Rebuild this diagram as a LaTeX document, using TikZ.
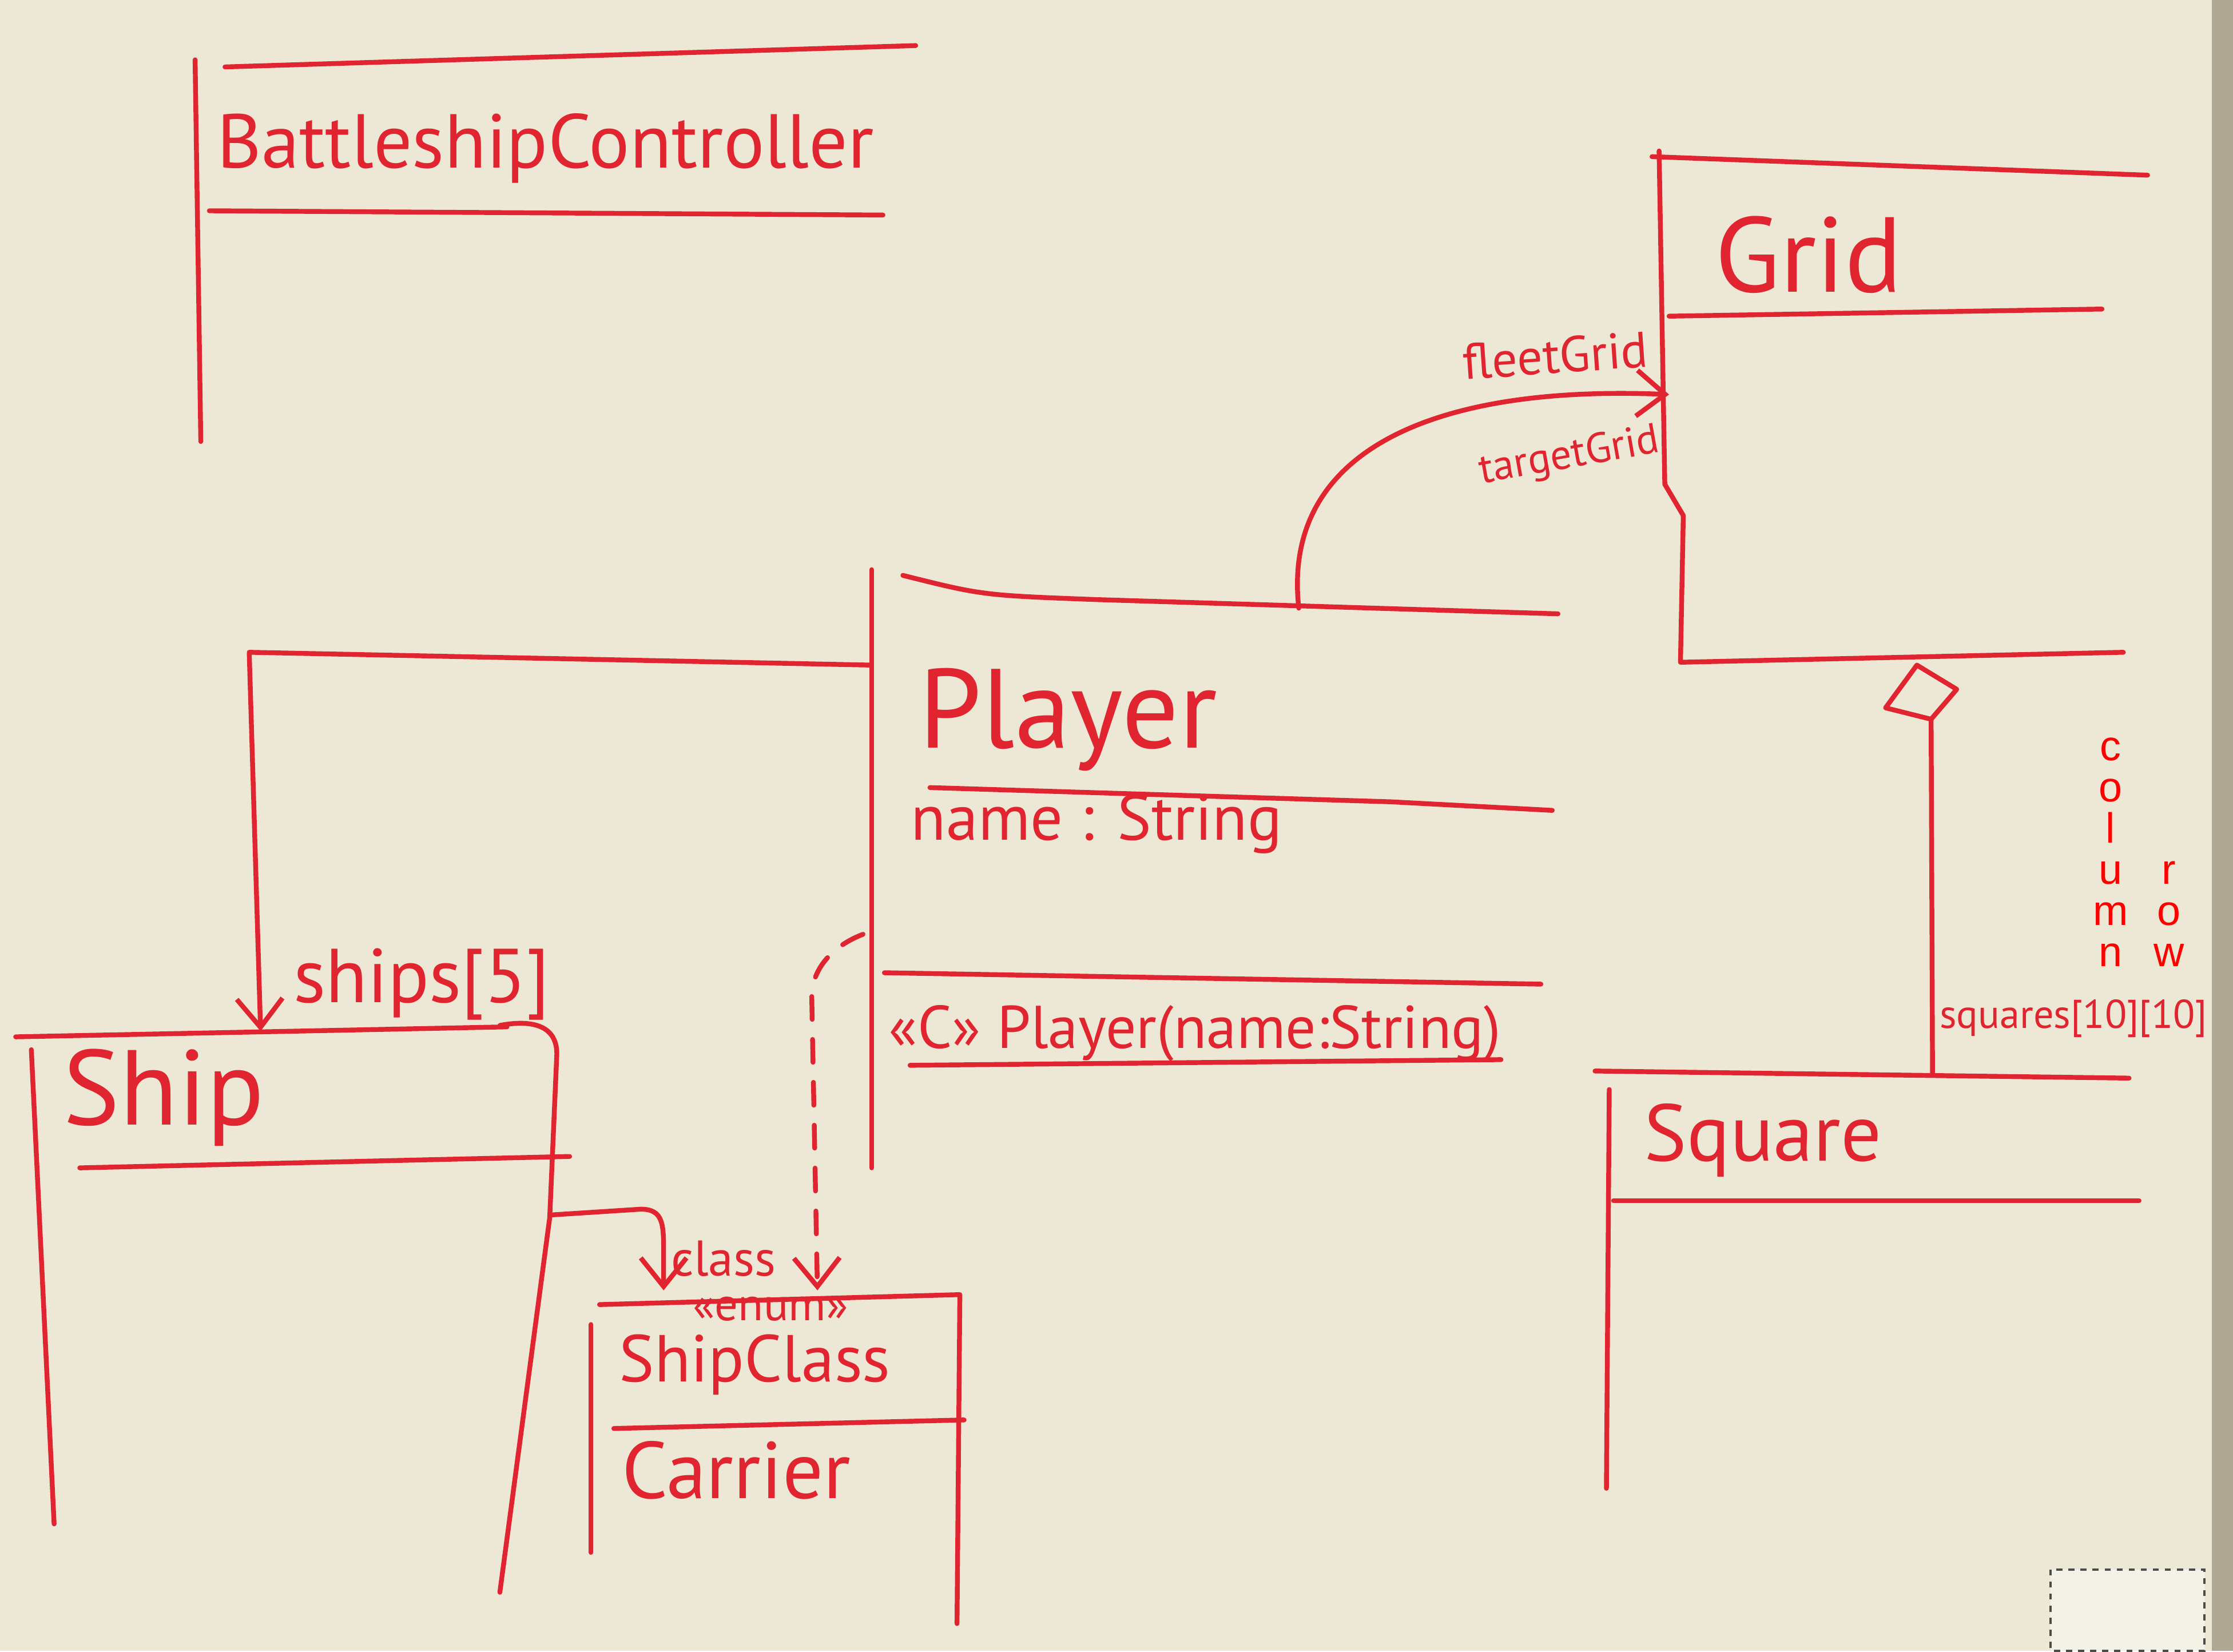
\documentclass[tikz,border=0pt]{standalone}
\usepackage{fontspec}
\setmainfont{PT Sans}
\newfontfamily\typedfont{Liberation Sans}
\usepackage{tikz}
\usetikzlibrary{arrows.meta, positioning}
\definecolor{boardbg}{RGB}{236,232,213}
\definecolor{boardframe}{RGB}{176,168,146}
\definecolor{marker}{RGB}{224,36,48}
\definecolor{typedred}{RGB}{255,0,0}
\newcommand{\mfont}[1]{\fontsize{#1}{#1}\selectfont}

\begin{document}
\begin{tikzpicture}[x=0.249mm, y=-0.249mm,
  pen/.style={draw=marker, line width=2.4pt, line cap=round, line join=round},
  hand/.style={text=marker, inner sep=0pt, anchor=base},
  barb/.style={pen, -{Straight Barb[length=5mm, width=8mm]}},
  dashbarb/.style={barb, dash pattern=on 4mm off 3.5mm}]
% board
\fill[boardbg] (0,0) rectangle (1568,1159);
\fill[boardframe] (1553,0) rectangle (1568,1159);
\draw[black!70, line width=1.2pt, dashed, fill=boardbg!60!white] (1440,1102) rectangle (1548,1159);
\useasboundingbox (0,0) rectangle (1568,1159);

% BattleshipController
\draw[pen] (158,47) -- (643,32);
\draw[pen] (137,42) -- (141,310);
\draw[pen] (147,148) -- (620,151);
\node[hand, font=\mfont{38}] (ctrltitle) at (383,118) {BattleshipController};

% Grid
\draw[pen] (1160,110) -- (1508,123);
\draw[pen] (1165,106) -- (1169,340) -- (1182,362) -- (1180,465) -- (1491,458);
\draw[pen] (1172,222) -- (1476,217);
\node[hand, font=\mfont{53}] (gridtitle) at (1270,205) {Grid};
\coordinate (grid w) at (1172,277);

% Player
\draw[pen] (612,400) -- (612,820);
\draw[pen] (634,404) .. controls (690,418) .. (770,421) -- (1094,431);
\draw[pen] (653,553) -- (977,563) -- (1090,569);
\draw[pen] (621,683) -- (1082,691);
\draw[pen] (639,748) -- (1054,744);
\node[hand, font=\mfont{56}] (playertitle) at (750,525) {Player};
\node[hand, font=\mfont{32}] (playername) at (770,590) {name : String};
\node[hand, font=\mfont{30}] (playerctor) at (839,736) {«C» Player(name:String)};
\coordinate (player n) at (912,427);
\coordinate (player w) at (612,467);
\coordinate (player dash) at (606,656);

% Ship
\draw[pen] (11,728) -- (356,721);
\draw[pen] (351,720) .. controls (372,716) and (391,719) .. (391,740) -- (386,855) -- (351,1118);
\draw[pen] (22,737) -- (38,1070);
\draw[pen] (56,820) -- (400,812);
\node[hand, font=\mfont{53}] (shiptitle) at (115,790) {Ship};
\coordinate (ship n) at (183,724);
\coordinate (ship e) at (388,853);
\coordinate (ships bend) at (175,458);

% ShipClass
\draw[pen] (421,916) -- (674,909) -- (672,1140);
\draw[pen] (415,930) -- (415,1090);
\draw[pen] (431,1003) -- (677,997);
\node[hand, font=\mfont{23}] (enumtag) at (541,927) {«enum»};
\node[hand, font=\mfont{33}] (shipclasstitle) at (530,970) {ShipClass};
\node[hand, font=\mfont{40}] (carrier) at (517,1052) {Carrier};
\coordinate (shipclass n1) at (466,906);
\coordinate (shipclass n2) at (574,906);

% Square
\draw[pen] (1120,752) -- (1495,757);
\draw[pen] (1130,765) -- (1128,1045);
\draw[pen] (1133,843) -- (1502,843);
\node[hand, font=\mfont{40}] (squaretitle) at (1238,815) {Square};
\coordinate (square n) at (1357,754);

% associations
\draw[barb] (player w) -- (ships bend) -- (ship n);
\node[hand, font=\mfont{38}] (lblships) at (296,704) {ships[5]};

\draw[barb] (player n) .. controls (900,320) and (1000,270) .. (grid w);
\node[hand, font=\mfont{25}, rotate=4] (lblfleet) at (1093,262) {fleetGrid};
\node[hand, font=\mfont{21}, rotate=10, anchor=center] (lbltarget) at (1102,321) {targetGrid};

\draw[barb] (ship e) -- (450,849) .. controls (466,849) and (466,860) .. (466,880) -- (shipclass n1);
\node[hand, font=\mfont{25}] (lblclass) at (508,896) {class};

\draw[dashbarb] (player dash) .. controls (585,664) and (570,680) .. (570,700) -- (shipclass n2);

% aggregation Grid <>-- Square
\coordinate (agg top) at (1346,467);
\coordinate (agg tip) at (1356,505);
\draw[pen, fill=boardbg] (agg top) -- (1374,484) -- (agg tip) -- (1324,497) -- cycle;
\draw[pen] (agg tip) -- (square n);
\node[hand, font=\mfont{20}] (lblsquares) at (1456,722) {squares[10][10]};

\node[text=typedred, inner sep=0pt, anchor=south, align=center,
  font=\typedfont\fontsize{21}{20.5}\selectfont] (lblcolumn) at (1482,679) {c\\o\\l\\u\\m\\n};
\node[text=typedred, inner sep=0pt, anchor=south, align=center,
  font=\typedfont\fontsize{21}{20.5}\selectfont] (lblrow) at (1523,679) {r\\o\\w};
\end{tikzpicture}
\end{document}
